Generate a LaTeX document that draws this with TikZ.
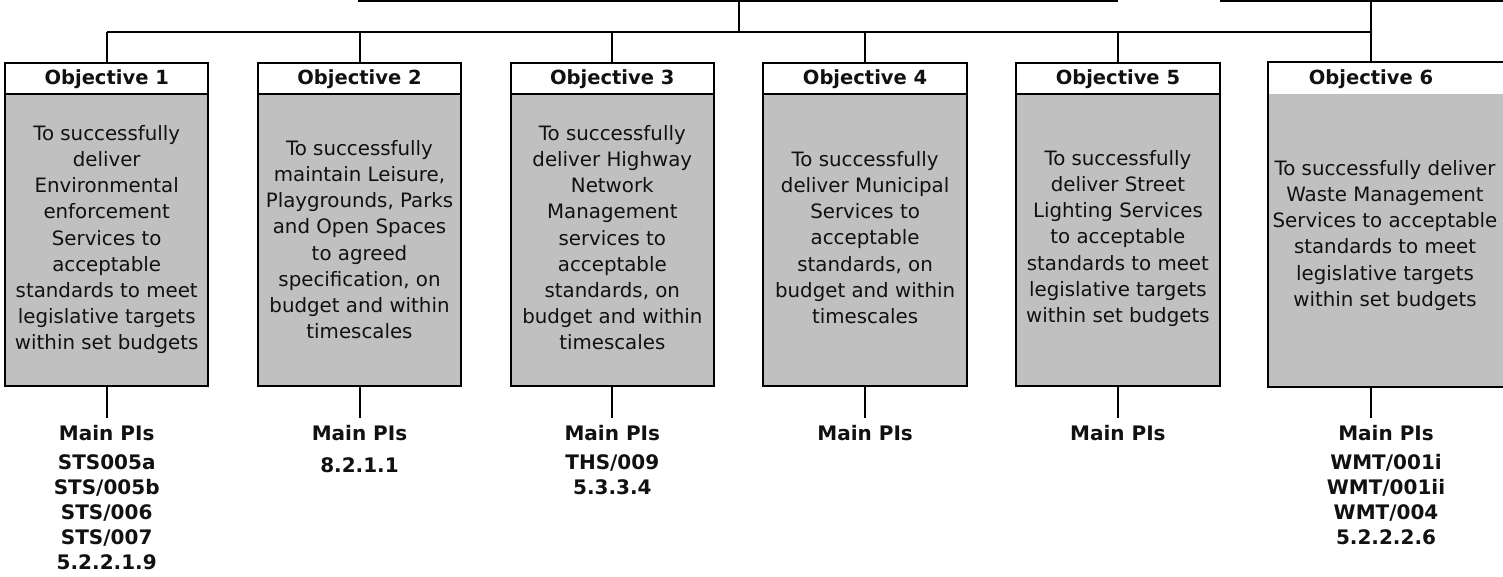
\documentclass[tikz,border=0pt]{standalone}
\usepackage{fontspec}
\setmainfont{DejaVu Sans}
\definecolor{boxgray}{HTML}{C0C0C0}
\definecolor{inkblack}{HTML}{111111}
\begin{document}
\begin{tikzpicture}[x=1pt,y=-1pt, line width=2pt,
  hdr/.style={draw, fill=white, minimum width=203.5pt, minimum height=30.7pt,
    inner sep=0pt, text height=12.8pt, text depth=0pt, text=inkblack,
    font=\fontsize{19.5}{23}\selectfont\bfseries},
  bodybox/.style={draw, fill=boxgray, minimum width=203.5pt, minimum height=291.7pt, inner sep=0pt},
  desc/.style={align=center, inner sep=0pt, text=inkblack,
    font=\fontsize{19.8}{26.2}\selectfont,
    execute at begin node=\strut, execute at end node=\strut},
  pihead/.style={anchor=base, inner sep=0pt, text=inkblack, font=\fontsize{20}{25}\selectfont\bfseries},
  pilist/.style={anchor=north, align=center, inner sep=0pt, text=inkblack,
    font=\fontsize{20}{25}\selectfont\bfseries, execute at begin node=\strut},
]
\useasboundingbox (0,0) rectangle (1503,577);

% top rails and the shared bus
\coordinate (railA) at (358,1);
\coordinate (railB) at (1118,1);
\coordinate (railC) at (1220,1);
\coordinate (railD) at (1503,1);
\coordinate (hub) at (739,1);
\coordinate (bus) at (0,31.7);
\coordinate (feed6) at (1370.8,1);

\draw (railA) -- (railB);
\draw (railC) -- (railD);
\draw (hub) -- (hub |- bus);

% objective boxes
\node[hdr] (h1) at (106.7,78.6) {Objective 1};
\node[bodybox] (b1) at (106.7,239.9) {};
\node[hdr] (h2) at (359.5,78.6) {Objective 2};
\node[bodybox] (b2) at (359.5,239.9) {};
\node[hdr] (h3) at (612.3,78.6) {Objective 3};
\node[bodybox] (b3) at (612.3,239.9) {};
\node[hdr] (h4) at (865.1,78.6) {Objective 4};
\node[bodybox] (b4) at (865.1,239.9) {};
\node[hdr] (h5) at (1117.9,78.6) {Objective 5};
\node[bodybox] (b5) at (1117.9,239.9) {};
% the sixth box runs past the right edge and has no rule under its title
\node[bodybox, draw=none, minimum width=280pt] (b6) at (1409,239.9) {};
\node[hdr, draw=none, fill=none, minimum width=280pt] (h6) at (1409,78.6) {};
\draw (b6.south east) -- (b6.south west) -- (h6.north west) -- (h6.north east);
\node[anchor=base, inner sep=0pt, text=inkblack, font=\fontsize{19.5}{23}\selectfont\bfseries]
  (h6t) at (1371,85) {Objective 6};

% connectors from the bus down to each title
\draw (h1.north |- bus) -- (feed6 |- bus);
\foreach \k in {1,...,5} \draw (h\k.north) -- (h\k.north |- bus);
\draw (feed6) -- (feed6 |- h6.north);

% objective descriptions
\node[desc] (t1) at (106.7,241.6) {To successfully\\deliver\\Environmental\\enforcement\\Services to\\acceptable\\standards to meet\\legislative targets\\within set budgets};
\node[desc] (t2) at (359.5,243.5) {To successfully\\maintain Leisure,\\Playgrounds, Parks\\and Open Spaces\\to agreed\\specification, on\\budget and within\\timescales};
\node[desc] (t3) at (612.3,241.6) {To successfully\\deliver Highway\\Network\\Management\\services to\\acceptable\\standards, on\\budget and within\\timescales};
\node[desc] (t4) at (865.1,241.4) {To successfully\\deliver Municipal\\Services to\\acceptable\\standards, on\\budget and within\\timescales};
\node[desc] (t5) at (1117.9,240.4) {To successfully\\deliver Street\\Lighting Services\\to acceptable\\standards to meet\\legislative targets\\within set budgets};
\node[desc] (t6) at (1385,237.3) {To successfully deliver\\Waste Management\\Services to acceptable\\standards to meet\\legislative targets\\within set budgets};

% performance indicators under each objective
\coordinate (stem) at (0,418.3);
\foreach \k in {1,...,5} \draw (b\k.south) -- (b\k.south |- stem);
\draw (feed6 |- b6.south) -- (feed6 |- stem);

\node[pihead] (m1) at (106.7,440) {Main PIs};
\node[pihead] (m2) at (359.5,440) {Main PIs};
\node[pihead] (m3) at (612.3,440) {Main PIs};
\node[pihead] (m4) at (865.1,440) {Main PIs};
\node[pihead] (m5) at (1117.9,440) {Main PIs};
\node[pihead] (m6) at (1386,440) {Main PIs};

\node[pilist] (l1) at (106.7,453.5) {STS005a\\STS/005b\\STS/006\\STS/007\\5.2.2.1.9};
\node[pilist] (l2) at (359.5,453.5) {8.2.1.1};
\node[pilist] (l3) at (612.3,453.5) {THS/009\\5.3.3.4};
\node[pilist] (l6) at (1386,453.5) {WMT/001i\\WMT/001ii\\WMT/004\\5.2.2.2.6};
\end{tikzpicture}
\end{document}
